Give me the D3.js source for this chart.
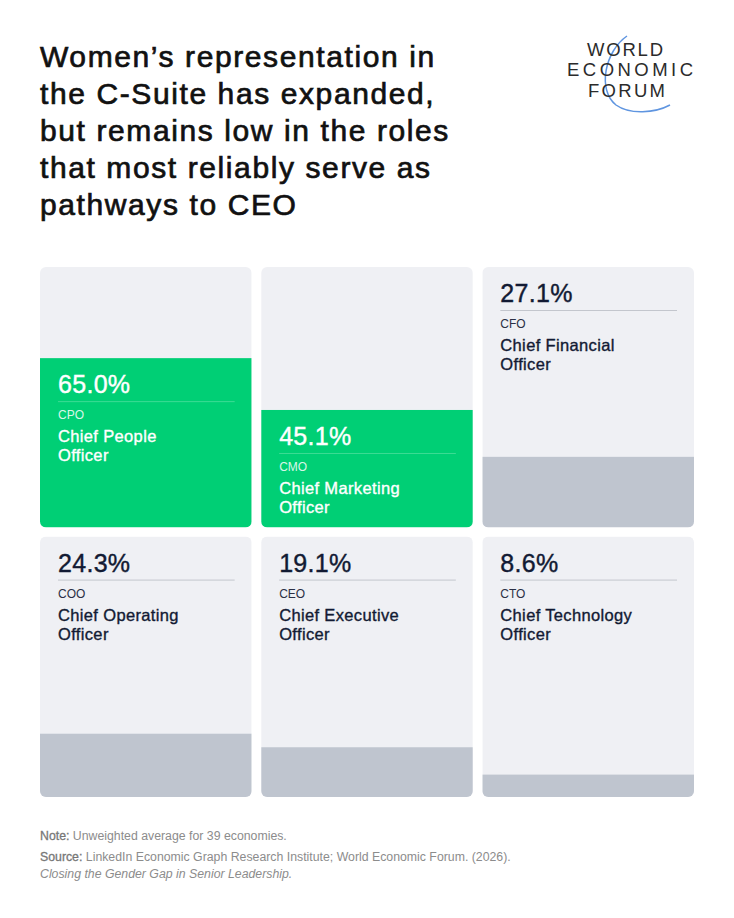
<!DOCTYPE html>
<html>
<head>
<meta charset="utf-8">
<script src="https://cdn.jsdelivr.net/npm/d3@7"></script>
<style>
  html, body { margin: 0; padding: 0; background: #fff; }
  #chart svg { display: block; }
  text { font-family: "Liberation Sans", Arial, Helvetica, sans-serif; }
</style>
</head>
<body>
<div id="chart"></div>
<script>
(function () {
  // Data
  const codes = ['CPO', 'CMO', 'CFO', 'COO', 'CEO', 'CTO'];
  const roleLines = [
    ['Chief People', 'Officer'],
    ['Chief Marketing', 'Officer'],
    ['Chief Financial', 'Officer'],
    ['Chief Operating', 'Officer'],
    ['Chief Executive', 'Officer'],
    ['Chief Technology', 'Officer']
  ];
  const values = [65.0, 45.1, 27.1, 24.3, 19.1, 8.6];
  const highlighted = ['CPO', 'CMO'];

  const titleLines = [
    'Women\u2019s representation in',
    'the C-Suite has expanded,',
    'but remains low in the roles',
    'that most reliably serve as',
    'pathways to CEO'
  ];
  const logoLines = ['WORLD', 'ECONOMIC', 'FORUM'];

  const width = 734;
  const height = 918;

  const svg = d3.select('#chart').append('svg')
    .attr('width', width)
    .attr('height', height);

  svg.append('rect').attr('width', width).attr('height', height).attr('fill', '#fff');

  // Title (regular face with a thin stroke to get a medium weight)
  svg.append('text')
    .attr('font-size', 30)
    .attr('letter-spacing', 1.6)
    .attr('fill', '#111')
    .attr('stroke', '#111')
    .attr('stroke-width', 0.7)
    .selectAll('tspan')
    .data(titleLines)
    .enter()
    .append('tspan')
    .attr('x', 40)
    .attr('y', (d, i) => 66.5 + i * 37)
    .text(d => d);

  // Logo
  const logo = svg.append('g').attr('class', 'logo');
  logo.append('path')
    .attr('d', 'M627,36 C605,51 597,90 616,105 C630,115 655,113 670,105')
    .attr('fill', 'none')
    .attr('stroke', '#5f95e0')
    .attr('stroke-width', 1.5);
  const logoX = [587, 567, 588];
  const logoW = [76, 126, 77];
  logo.selectAll('text')
    .data(logoLines)
    .enter()
    .append('text')
    .attr('x', (d, i) => logoX[i])
    .attr('y', (d, i) => 56 + i * 20.4)
    .attr('font-size', 18.5)
    .attr('textLength', (d, i) => logoW[i])
    .attr('lengthAdjust', 'spacing')
    .attr('fill', '#2b2b2b')
    .text(d => d);

  // Card grid
  const cols = d3.scaleBand().domain([0, 1, 2]).range([40, 694]).paddingInner(0.043);
  const rows = d3.scaleBand().domain([0, 1]).range([267, 797]).paddingInner(0.034);
  const cardH = rows.bandwidth();
  const barH = d3.scaleLinear().domain([0, 100]).range([0, cardH]);

  const cards = codes.map((c, i) => ({
    code: c,
    lines: roleLines[i],
    value: values[i],
    hi: highlighted.includes(c),
    col: i % 3,
    row: Math.floor(i / 3)
  }));

  const clip = svg.append('defs');
  cards.forEach((d, i) => {
    clip.append('clipPath').attr('id', 'clip' + i)
      .append('rect')
      .attr('x', cols(d.col))
      .attr('y', rows(d.row))
      .attr('width', cols.bandwidth())
      .attr('height', cardH)
      .attr('rx', 6);
  });

  const cg = svg.selectAll('g.card')
    .data(cards)
    .enter()
    .append('g')
    .attr('class', 'card')
    .attr('clip-path', (d, i) => `url(#clip${i})`);

  cg.append('rect')
    .attr('x', d => cols(d.col))
    .attr('y', d => rows(d.row))
    .attr('width', cols.bandwidth())
    .attr('height', cardH)
    .attr('fill', '#eff0f4');

  cg.append('rect')
    .attr('x', d => cols(d.col))
    .attr('y', d => rows(d.row) + cardH - barH(d.value))
    .attr('width', cols.bandwidth())
    .attr('height', d => barH(d.value))
    .attr('fill', d => d.hi ? '#00cf75' : '#bfc5cf');

  // Labels: sit at bar top when the bar is tall enough, else at card top
  const labelTop = d => barH(d.value) > 110 ? rows(d.row) + cardH - barH(d.value) : rows(d.row);
  const textCol = d => d.hi ? '#ffffff' : '#121a33';

  cg.append('text')
    .attr('x', d => cols(d.col) + 18)
    .attr('y', d => labelTop(d) + 35)
    .attr('font-size', 25)
    .attr('letter-spacing', 0.3)
    .attr('fill', textCol)
    .attr('stroke', textCol)
    .attr('stroke-width', 0.4)
    .text(d => d.value.toFixed(1) + '%');

  cg.append('line')
    .attr('x1', d => cols(d.col) + 18)
    .attr('x2', d => cols(d.col) + cols.bandwidth() - 17)
    .attr('y1', d => labelTop(d) + 43.5)
    .attr('y2', d => labelTop(d) + 43.5)
    .attr('stroke', d => d.hi ? '#3ddc95' : '#c3c6cd')
    .attr('stroke-width', 1);

  cg.append('text')
    .attr('x', d => cols(d.col) + 18)
    .attr('y', d => labelTop(d) + 61)
    .attr('font-size', 12)
    .attr('fill', d => d.hi ? '#d8f6e8' : '#2a2f45')
    .text(d => d.code);

  cg.append('text')
    .attr('font-size', 16.5)
    .attr('letter-spacing', 0.35)
    .attr('fill', textCol)
    .attr('stroke', textCol)
    .attr('stroke-width', 0.35)
    .selectAll('tspan')
    .data(d => d.lines.map(l => ({ l, d })))
    .enter()
    .append('tspan')
    .attr('x', o => cols(o.d.col) + 18)
    .attr('y', (o, i) => labelTop(o.d) + 84 + i * 19)
    .text(o => o.l);

  // Footnotes
  const notes = svg.append('g').attr('font-size', 12.3).attr('fill', '#8c8c8c');
  const n1 = notes.append('text').attr('x', 40).attr('y', 839.5);
  n1.append('tspan').attr('fill', '#777').attr('stroke', '#777').attr('stroke-width', 0.3).text('Note:');
  n1.append('tspan').text(' Unweighted average for 39 economies.');
  const n2 = notes.append('text').attr('x', 40).attr('y', 860.5);
  n2.append('tspan').attr('fill', '#777').attr('stroke', '#777').attr('stroke-width', 0.3).text('Source:');
  n2.append('tspan').text(' LinkedIn Economic Graph Research Institute; World Economic Forum. (2026).');
  notes.append('text').attr('x', 40).attr('y', 877.5)
    .attr('font-style', 'italic')
    .text('Closing the Gender Gap in Senior Leadership.');
})();
</script>
</body>
</html>
